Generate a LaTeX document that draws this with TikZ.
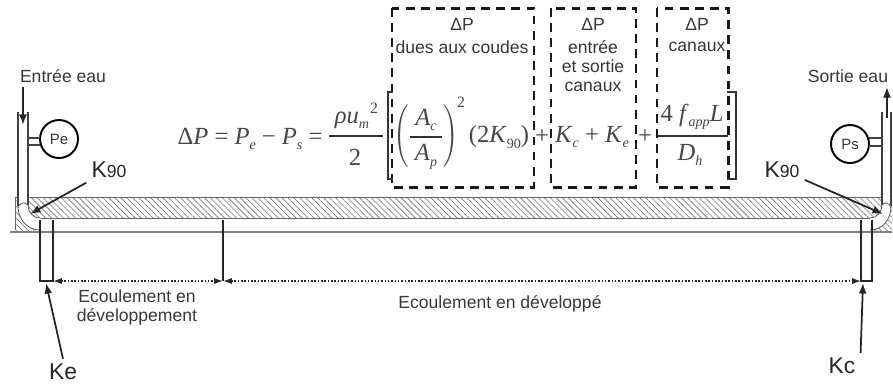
\documentclass[tikz,border=0pt]{standalone}
\usepackage{fontspec}
\setmainfont{Liberation Serif}
\setsansfont{Liberation Sans}
\usetikzlibrary{arrows.meta,patterns.meta}
\newcommand{\eqsub}[1]{\raisebox{-3pt}{\fontsize{8}{8}\selectfont #1}}
\begin{document}
\begin{tikzpicture}[x=0.02cm,y=-0.02cm,>=Latex,
 label/.style={font=\sffamily\fontsize{10}{10}\selectfont,text=black!78,inner sep=0pt},
 bigk/.style={font=\sffamily\fontsize{13}{13}\selectfont,text=black!85,inner sep=1pt,outer sep=2pt},
 eqn/.style={font=\fontsize{14}{14}\selectfont,text=black!72,inner sep=0pt},
 gauge/.style={circle,draw,line width=1.1pt,minimum size=38*0.02cm,inner sep=0pt,font=\sffamily\fontsize{8.5}{8.5}\selectfont,text=black!78},
 costbox/.style={line width=1.7pt,dash pattern=on 5pt off 3.6pt,black!90},
 bracket/.style={line width=0.8pt,black!80},
 bar/.style={line width=0.7pt,black!80},
 wall/.style={line width=0.5pt,black!60},
 tube/.style={line width=0.8pt,black!75},
 pointer/.style={->,line width=1pt,black!85,>={Latex[length=6pt,width=4.5pt]}},
 tick/.style={line width=0.9pt,black!85},
 flow/.style={<->,densely dotted,line width=0.9pt,black!85,>={Latex[length=5pt,width=3.5pt]}}]
\useasboundingbox (0,0) rectangle (893,387);
\fill[white] (0,0) rectangle (893,387);
% plate
\fill[pattern={Lines[angle=-45,distance=2.4pt,line width=0.35pt]},pattern color=black!55] (15,197) rectangle (892,218);
\fill[pattern={Lines[angle=-45,distance=2.4pt,line width=0.35pt]},pattern color=black!55] (15,218) rectangle (40,232);
\fill[pattern={Lines[angle=-45,distance=2.4pt,line width=0.35pt]},pattern color=black!55] (872,218) rectangle (892,232);
\draw[wall] (15,197) -- (892,197) (15,197) -- (15,230) (40,218) -- (870,218);
\draw[wall,line width=1pt,black!50] (10,232) -- (892,232);
% elbows
\fill[white] (18,197) -- (18,206) .. controls (18,220) and (28,230) .. (40,230) -- (40,218) .. controls (33,218) and (28,212) .. (28,205) -- (28,197) -- cycle;
\fill[white] (891,197) -- (891,206) .. controls (891,220) and (882,230) .. (870,230) -- (870,218) .. controls (877,218) and (882,212) .. (882,205) -- (882,197) -- cycle;
\draw[wall] (18,206) .. controls (18,220) and (28,230) .. (40,230);
\draw[wall] (40,218) .. controls (33,218) and (28,212) .. (28,205) (18,208) .. controls (19,203) and (25,201) .. (28,205);
\draw[wall] (891,206) .. controls (891,220) and (882,230) .. (870,230);
\draw[wall] (870,218) .. controls (877,218) and (882,212) .. (882,205) (891,208) .. controls (890,203) and (885,201) .. (882,205);
% tubes
\draw[tube] (18,112) -- (18,206) (28,112) -- (28,205);
\draw[tube] (882,112) -- (882,205) (891,112) -- (891,206);
% gauges
\node[gauge] (Pe) at (59,139) {Pe};
\node[gauge] (Ps) at (850,144) {Ps};
\draw[tube] (28,138) -- (40,138) (28,145) -- (40,145);
\draw[tube] (869,138) -- (882,138) (869,146) -- (882,146);
% water in and out
\node[label] (inlet) at (63,76) {Entrée eau};
\node[label] (outlet) at (848,76) {Sortie eau};
\coordinate (inTail) at (23,87);
\coordinate (inTip) at (23,125);
\coordinate (outTail) at (887,118);
\coordinate (outTip) at (887,87);
\draw[pointer] (inTail) -- (inTip);
\draw[pointer] (outTail) -- (outTip);
% elbow losses
\node[bigk] (K90in) at (109,170) {K{\fontsize{10}{10}\selectfont 90}};
\node[bigk] (K90out) at (782,170) {K{\fontsize{10}{10}\selectfont 90}};
\coordinate (K90inTip) at (30,214);
\coordinate (K90outTip) at (883,214);
\draw[pointer] (K90in) -- (K90inTip);
\draw[pointer] (K90out) -- (K90outTip);
% dashed boxes
\draw[costbox] (392,8) rectangle (534,187);
\draw[costbox] (551,8) rectangle (636,187);
\draw[costbox] (657,8) rectangle (728,187);
\node[label] (dpA) at (462,24) {ΔP};
\node[label] (dpAtxt) at (462,47) {dues aux coudes};
\node[label] (dpB) at (593,24) {ΔP};
\node[label] (dpBa) at (593,47) {entrée};
\node[label] (dpBb) at (593,66) {et sortie};
\node[label] (dpBc) at (593,87) {canaux};
\node[label] (dpC) at (697,24) {ΔP};
\node[label] (dpCtxt) at (697,47) {canaux};
% equation
\node[eqn] (eqLeft) at (250,139) {Δ\textit{P} = \textit{P}\eqsub{\textit{e}} − \textit{P}\eqsub{\textit{s}} =};
\node[eqn] (eqRho) at (352,120) {\textit{ρu}\eqsub{\textit{m}}};
\node[eqn,font=\fontsize{9}{9}\selectfont] (eqRhoSq) at (374,108) {2};
\node[eqn] (eqTwo) at (355,157) {2};
\draw[bar] (329,136) -- (383,136);
\draw[bracket] (393,92) -- (388,92) -- (388,179) -- (393,179);
\draw[bracket] (727,92) -- (736,92) -- (736,179) -- (727,179);
\node[eqn] (parenL) at (401,136) {$\nulldelimiterspace=0pt\left(\vcenter to 38pt{}\right.$};
\node[eqn] (parenR) at (451,136) {$\nulldelimiterspace=0pt\left.\vcenter to 38pt{}\right)$};
\node[eqn] (eqAc) at (426,120) {\textit{A}\eqsub{\textit{c}}};
\node[eqn] (eqAp) at (426,157) {\textit{A}\eqsub{\textit{p}}};
\draw[bar] (410,137) -- (442,137);
\node[eqn,font=\fontsize{9}{9}\selectfont] (eqParenSq) at (461,102) {2};
\node[eqn] (eqKnin) at (499,137) {(2\textit{K}\eqsub{90})};
\node[eqn] (plusA) at (542,137) {+};
\node[eqn] (eqKcKe) at (592,137) {\textit{K}\eqsub{\textit{c}} + \textit{K}\eqsub{\textit{e}}};
\node[eqn] (plusB) at (645,137) {+};
\node[eqn] (eqFapp) at (692,117) {4 \textit{f}\eqsub{\textit{app}}\textit{L}};
\node[eqn] (eqDh) at (690,155) {\textit{D}\eqsub{\textit{h}}};
\draw[bar] (658,136) -- (728,136);
% length marks
\coordinate (t1) at (40,220); \coordinate (b1) at (40,281);
\coordinate (t2) at (53,220); \coordinate (b2) at (53,281);
\coordinate (t3) at (223,220); \coordinate (b3) at (223,281);
\coordinate (t4) at (861,220); \coordinate (b4) at (861,281);
\coordinate (t5) at (872,220); \coordinate (b5) at (872,281);
\draw[tick] (t1) -- (b1) -- (b2) -- (t2);
\draw[tick] (t3) -- (b3);
\draw[tick] (t4) -- (b4) -- (b5) -- (t5);
\draw[flow] (b2) -- (b3);
\draw[flow] (b3) -- (b4);
\node[label] (devA) at (137,296) {Ecoulement en};
\node[label] (devB) at (137,317) {développement};
\node[label] (devC) at (500,304) {Ecoulement en développé};
% entrance and exit losses
\node[bigk] (Ke) at (63,372) {Ke};
\node[bigk] (Kc) at (842,366) {Kc};
\coordinate (KeTip) at (46,283);
\coordinate (KcTip) at (863,283);
\draw[pointer] (Ke.north) -- (KeTip);
\draw[pointer] (Kc.north east) -- (KcTip);
\end{tikzpicture}
\end{document}
